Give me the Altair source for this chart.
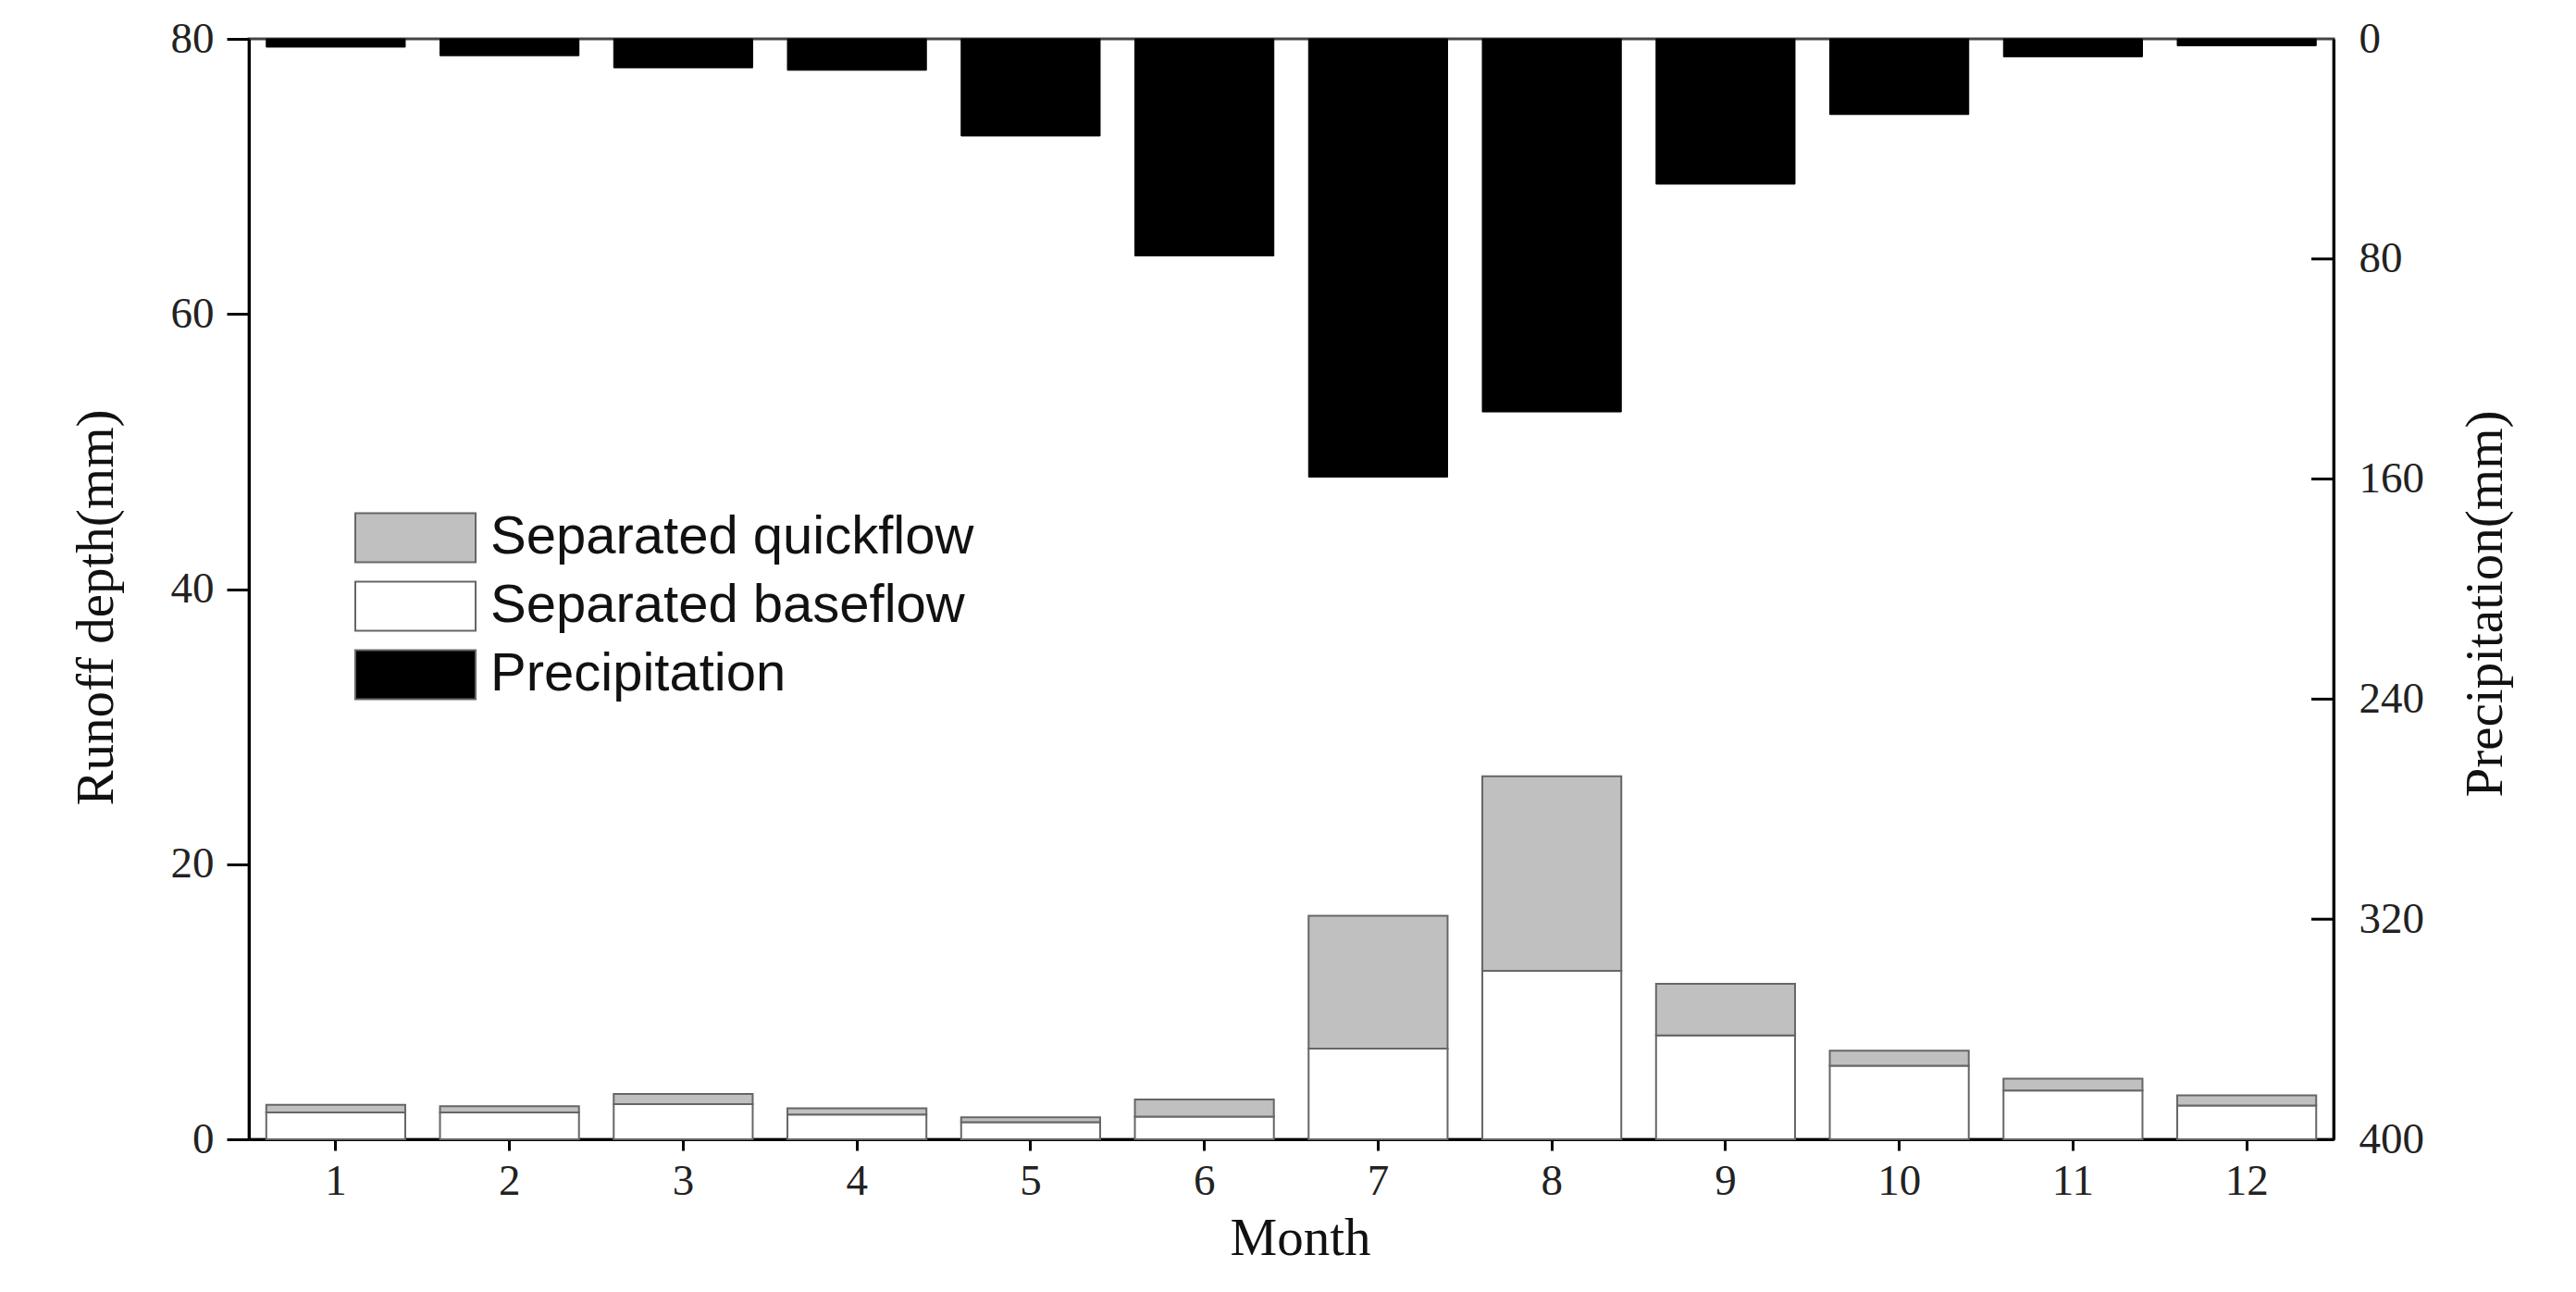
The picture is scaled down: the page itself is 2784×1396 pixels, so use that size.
import altair as alt
import pandas as pd

# ---------------- data ----------------
months = list(range(1, 13))
baseflow = [1.95, 1.95, 2.55, 1.8, 1.25, 1.65, 6.6, 12.25, 7.55, 5.35, 3.55, 2.45]
quickflow = [0.55, 0.45, 0.75, 0.45, 0.35, 1.25, 9.65, 14.15, 3.75, 1.1, 0.85, 0.75]
precipitation = [3.0, 6.1, 10.5, 11.4, 35.3, 78.9, 159.3, 135.6, 52.8, 27.5, 6.5, 2.5]

runoff_ticks = [0, 20, 40, 60, 80]
precip_ticks = [0, 80, 160, 240, 320, 400]

series_names = ["Separated quickflow", "Separated baseflow", "Precipitation"]
fills = ["#c0c0c0", "#ffffff", "#000000"]

W, H = 2253, 1189

rows = []
for m, b, q in zip(months, baseflow, quickflow):
    rows.append({"Month": m, "Series": "Separated baseflow", "Value": b, "order": 0})
    rows.append({"Month": m, "Series": "Separated quickflow", "Value": q, "order": 1})
runoff_df = pd.DataFrame(rows)
precip_df = pd.DataFrame({"Month": months, "Series": ["Precipitation"] * 12, "Value": precipitation})
tick_df = pd.DataFrame({"tick": precip_ticks[1:-1]})

x_enc = alt.X(
    "Month:O",
    scale=alt.Scale(paddingInner=0.2, paddingOuter=0.1),
    axis=alt.Axis(
        title="Month", labelAngle=0, tickSize=12, labelPadding=10,
        titleX=1136, titleY=124, titleBaseline="alphabetic", titleAlign="center",
    ),
)

fill_enc = alt.Fill(
    "Series:N",
    scale=alt.Scale(domain=series_names, range=fills),
    legend=alt.Legend(
        title=None, orient="none", legendX=149, legendY=508, padding=0,
        symbolType="M-2.1667,-0.883H2.1667V0.883H-2.1667Z", symbolSize=3600,
        symbolStrokeColor="#666666", symbolStrokeWidth=2, symbolOpacity=1,
        labelFont="Liberation Sans", labelFontSize=58, labelColor="#111111",
        labelOffset=50, rowPadding=12, labelLimit=1000,
    ),
)

runoff = alt.Chart(runoff_df).mark_bar(stroke="#666666", strokeWidth=2).encode(
    x=x_enc,
    y=alt.Y(
        "Value:Q", stack="zero",
        scale=alt.Scale(domain=[0, 80], nice=False),
        axis=alt.Axis(
            title="Runoff depth(mm)", values=runoff_ticks, tickSize=24, labelPadding=14,
            titleAngle=270, titleX=-165, titleY=614, titleBaseline="middle", titleAlign="center",
        ),
    ),
    fill=fill_enc,
    order=alt.Order("order:Q"),
)

precip = alt.Chart(precip_df).mark_bar(stroke="#000000", strokeWidth=1).encode(
    x=x_enc,
    y=alt.Y(
        "Value:Q",
        scale=alt.Scale(domain=[0, 400], reverse=True, nice=False),
        axis=alt.Axis(
            orient="right", title="Precipitation(mm)", values=precip_ticks, ticks=False,
            labelPadding=27, titleAngle=270, titleX=164, titleY=610,
            titleBaseline="middle", titleAlign="center",
        ),
    ),
    fill=fill_enc,
)

right_ticks = alt.Chart(tick_df).mark_rule(color="black", strokeWidth=3).encode(
    y=alt.Y("tick:Q", scale=alt.Scale(domain=[0, 400], reverse=True, nice=False), axis=None),
    x=alt.value(W - 24),
    x2=alt.value(W),
)

chart = (
    alt.layer(runoff, precip, right_ticks)
    .resolve_scale(y="independent")
    .properties(
        width=W, height=H,
        padding={"left": 261, "top": 34, "right": 254, "bottom": 150},
        autosize=alt.AutoSizeParams(type="none"),
        background="white",
    )
    .configure_view(stroke="#444444", strokeWidth=3)
    .configure_axis(
        domainColor="black", domainWidth=3, tickColor="black", tickWidth=3,
        labelFont="Liberation Serif", labelFontSize=47, labelColor="#222222",
        titleFont="Liberation Serif", titleFontSize=57, titleFontWeight="normal",
        titleColor="#111111", grid=False, labelOverlap=False, labelFlush=False,
    )
)

chart.save("out.html", embed_options={"renderer": "svg", "actions": False})
